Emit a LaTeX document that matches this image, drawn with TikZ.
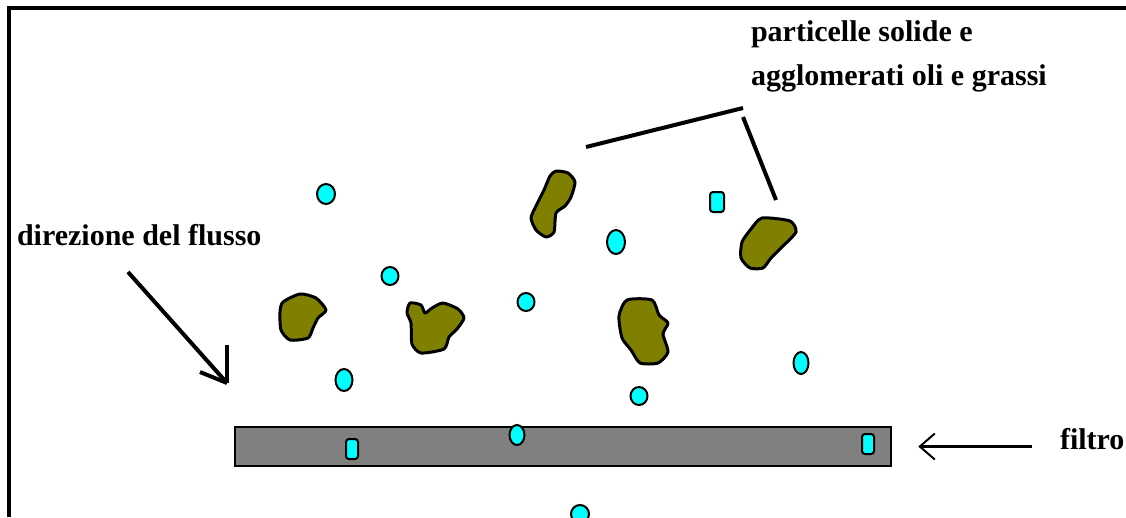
\documentclass[tikz,border=0pt]{standalone}
\usepackage{fontspec}
\setmainfont{Liberation Serif}
\usetikzlibrary{arrows.meta, shapes.geometric}
\definecolor{cdrop}{HTML}{00FFFF}
\definecolor{csolid}{HTML}{808000}
\definecolor{cfilter}{HTML}{808080}
\tikzset{
  every picture/.style={line width=4pt},
  txt/.style={font=\fontsize{30}{44}\selectfont\bfseries, inner sep=0pt, align=left},
  drop/.style 2 args={ellipse, draw=black, fill=cdrop, line width=2pt, inner sep=0pt, minimum width=#1pt, minimum height=#2pt},
  pill/.style 2 args={rectangle, rounded corners=3pt, draw=black, fill=cdrop, line width=2pt, inner sep=0pt, minimum width=#1pt, minimum height=#2pt},
  blob/.style={draw=black, fill=csolid, line width=3pt, line join=round},
  lead/.style={line width=4pt},
  pointer/.style={-{Straight Barb[length=15pt, width=26pt, line width=2pt]}, line width=3pt},
}

\begin{document}
\begin{tikzpicture}[x=1pt, y=-1pt]
  \useasboundingbox (0,0) rectangle (1126,517);
  % outer frame, open on the right
  \draw[line join=miter] (9,517) -- (9,8) -- (1126,8);

  % labels
  \node[txt, anchor=north west] (solids) at (749,19) {particelle solide e\\agglomerati oli e grassi};
  \node[txt, anchor=base west] (flow) at (15,245) {direzione del flusso};
  \node[txt, anchor=base west] (filtro) at (1058,449) {filtro};

  % filter
  \node[rectangle, draw=black, fill=cfilter, line width=2.5pt, minimum width=656pt, minimum height=39pt, inner sep=0pt] (filter) at (563,446.5) {};
  \draw[pointer] ([xshift=140pt]filter.east) -- ([xshift=26pt]filter.east);

  % solid particles
  \draw[blob] plot[smooth cycle, tension=0.4] coordinates {(556,171) (568,173) (575,182) (571,197) (565,206) (556,213) (554,232) (546,237) (536,230) (531,218) (536,206) (544,190) (550,176)};
  \draw[blob] plot[smooth cycle, tension=0.4] coordinates {(762,218) (790,221) (796,232) (782,247) (771,258) (763,268) (750,268) (741,258) (742,242) (751,229)};
  \draw[blob] plot[smooth cycle, tension=0.4] coordinates {(627,300) (652,300) (659,315) (668,323) (663,334) (668,352) (658,363) (640,363) (631,350) (622,338) (619,316)};
  \draw[blob] plot[smooth cycle, tension=0.4] coordinates {(283,302) (300,294) (316,298) (326,310) (318,318) (313,328) (308,338) (290,340) (281,330) (280,312)};
  \draw[blob] plot[smooth cycle, tension=0.4] coordinates {(410,303) (421,305) (425,313) (432,308) (443,303) (458,309) (464,318) (457,329) (449,337) (444,349) (421,353) (412,344) (411,323) (407,313)};

  % water drops
  \node[drop={18}{20}] (d1) at (326,194) {};
  \node[drop={17}{18}] (d2) at (390,276) {};
  \node[drop={17}{18}] (d3) at (526,302) {};
  \node[drop={18}{24}] (d4) at (616,242) {};
  \node[pill={14}{20}] (d5) at (717,202) {};
  \node[drop={15}{22}] (d6) at (801,363) {};
  \node[drop={17}{22}] (d7) at (344,380) {};
  \node[drop={17}{18}] (d8) at (639,396) {};
  \node[pill={12}{20}] (d9) at (352,449) {};
  \node[drop={15}{20}] (d10) at (517,435) {};
  \node[pill={12}{20}] (d11) at (868,444) {};
  \node[drop={18}{18}] (d12) at (580,514) {};

  % callout to the particles
  \coordinate (leadA) at (586,147);
  \coordinate (forkA) at (743,108);
  \coordinate (forkB) at (743,117);
  \coordinate (leadB) at (776,200);
  \draw[lead] (leadA) -- (forkA);
  \draw[lead] (forkB) -- (leadB);

  % flow direction
  \coordinate (flowtail) at (128,272);
  \coordinate (flowtip) at (227,383);
  \draw (flowtail) -- (flowtip);
  \draw (flowtip) -- ++(0,-38);
  \draw (flowtip) -- ++(-27,-11);
\end{tikzpicture}
\end{document}
